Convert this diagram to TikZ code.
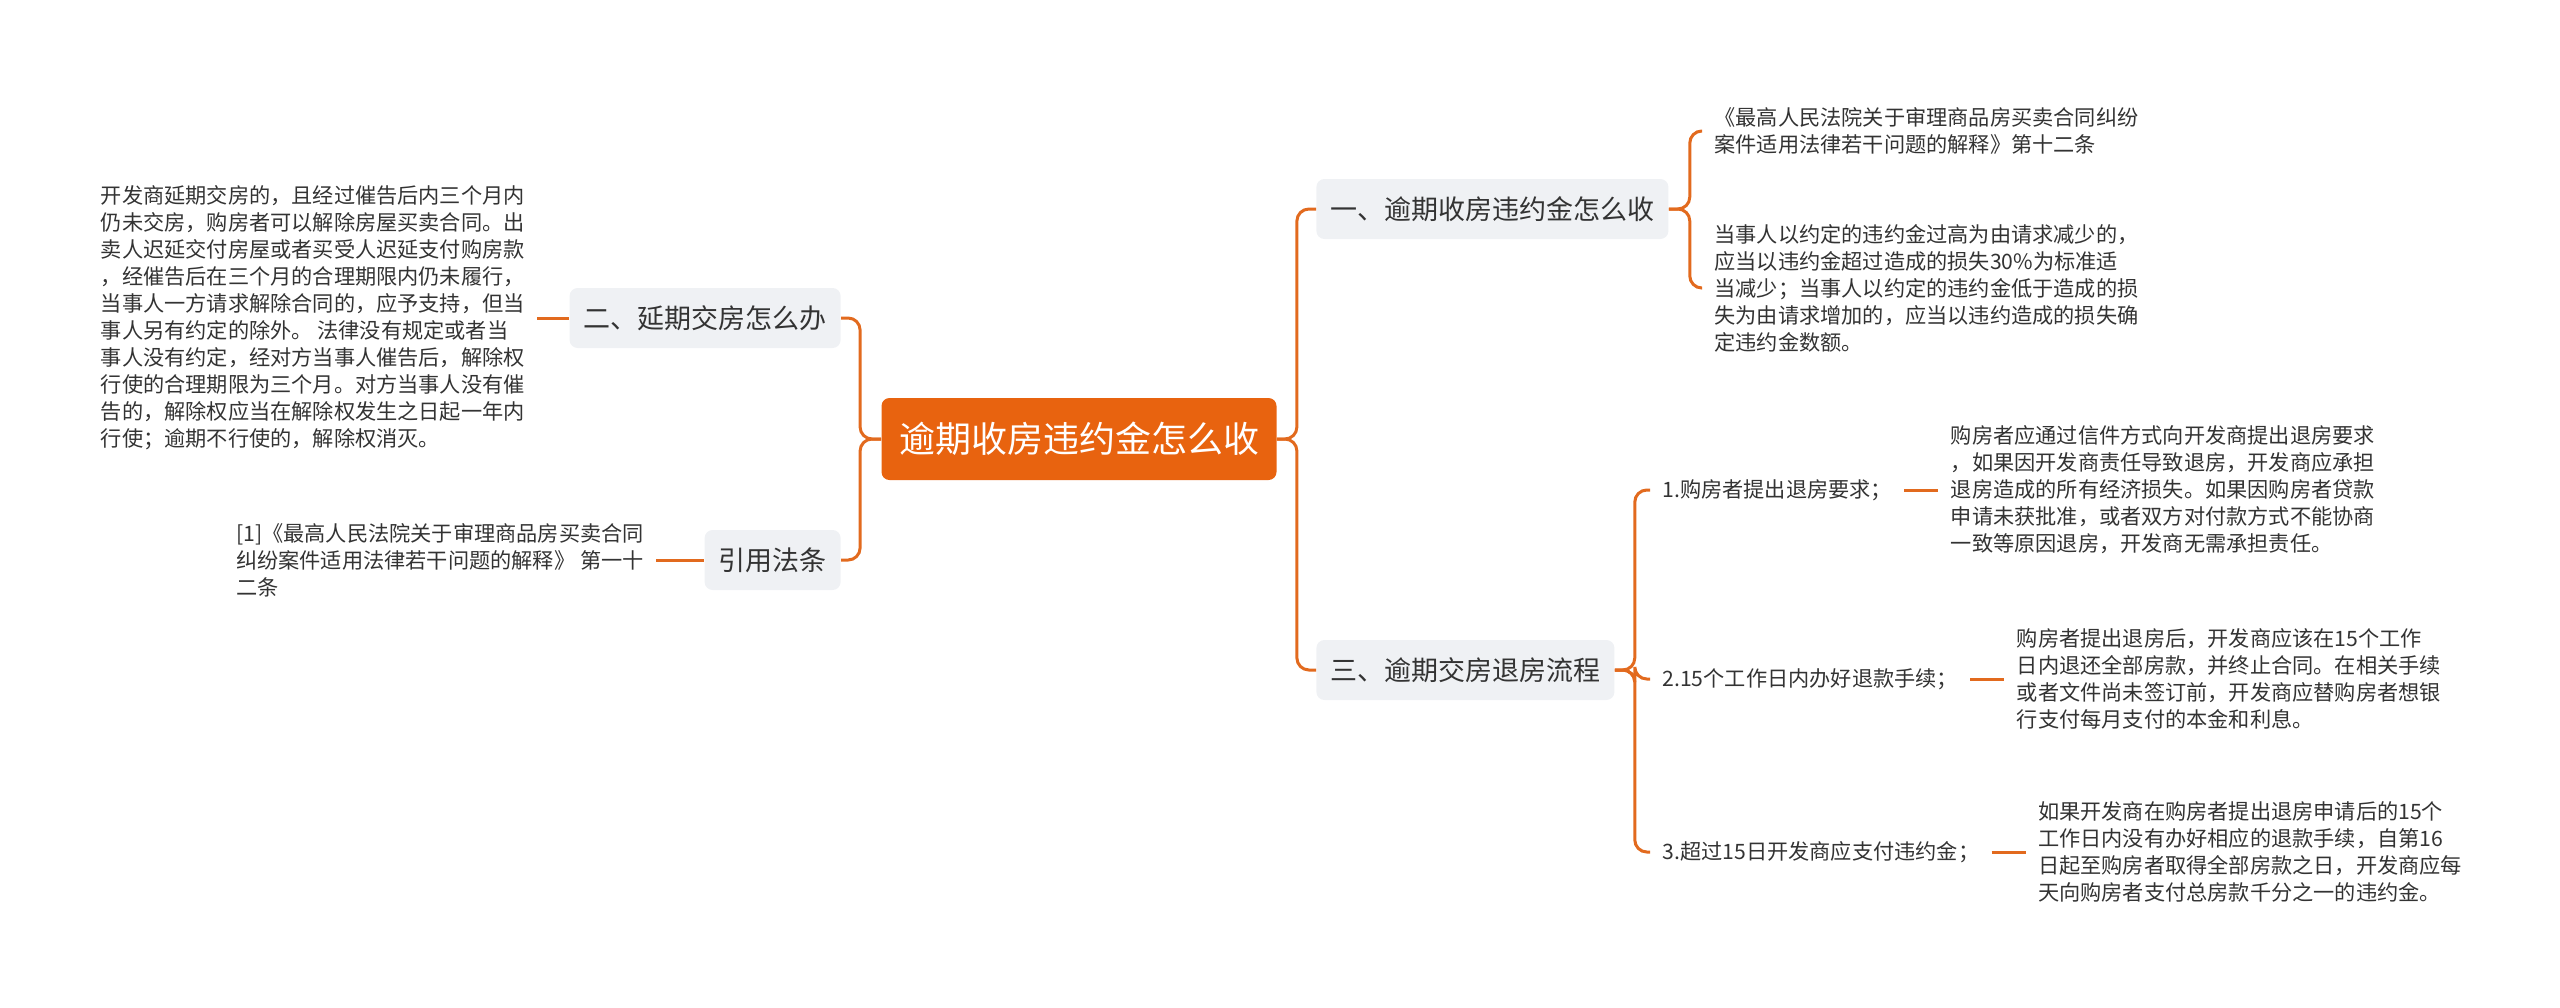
\documentclass[tikz,border=0pt]{standalone}
\usepackage{fontspec}
\setmainfont{Noto Sans CJK SC}
\usetikzlibrary{positioning}
\definecolor{orng}{HTML}{E8630F}
\definecolor{lnk}{HTML}{E26A1E}
\definecolor{boxgray}{HTML}{EFF1F4}
\definecolor{txt}{HTML}{333333}
\tikzset{
    %Define style for the root box
    rootbox/.style={
           rectangle,
           rounded corners=4pt,
           fill=orng, text=white,
           font=\fontsize{18pt}{22pt}\selectfont,
           minimum width=197.5pt,
           minimum height=41pt,
           text centered},
    %Define style for branch boxes
    branchbox/.style={
           rectangle,
           rounded corners=4pt,
           fill=boxgray, text=txt,
           font=\fontsize{13.5pt}{16pt}\selectfont,
           inner xsep=7pt,
           minimum height=30pt,
           text centered},
    %Define style for plain texts
    leaf/.style={
           inner sep=6pt,
           text=txt,
           align=left,
           font=\fontsize{10.6pt}{13.5pt}\selectfont},
    % Define connector style
    pil/.style={
           draw=lnk,
           line width=1.5pt,
           rounded corners=6pt}
}
\begin{document}
\begin{tikzpicture}[x=0.5pt,y=-0.5pt]
\useasboundingbox (0,0) rectangle (2560,1007);

 %nodes
\node[rootbox] (root) at (1079,439) {逾期收房违约金怎么收};
\node[branchbox, anchor=east] (l1) at (841,318) {二、延期交房怎么办};
\node[branchbox, anchor=east] (l2) at (841,560) {引用法条};
\node[branchbox, anchor=west] (r1) at (1316,209) {一、逾期收房违约金怎么收};
\node[branchbox, anchor=west] (r2) at (1316,670) {三、逾期交房退房流程};

\node[leaf, left=16pt of l1] (l1a) {开发商延期交房的，且经过催告后内三个月内\\
仍未交房，购房者可以解除房屋买卖合同。出\\
卖人迟延交付房屋或者买受人迟延支付购房款\\
，经催告后在三个月的合理期限内仍未履行，\\
当事人一方请求解除合同的，应予支持，但当\\
事人另有约定的除外。 法律没有规定或者当\\
事人没有约定，经对方当事人催告后，解除权\\
行使的合理期限为三个月。对方当事人没有催\\
告的，解除权应当在解除权发生之日起一年内\\
行使；逾期不行使的，解除权消灭。};
\node[leaf, left=24pt of l2] (l2a) {[1]《最高人民法院关于审理商品房买卖合同\\
纠纷案件适用法律若干问题的解释》 第一十\\
二条};

\node[leaf, anchor=west] (r1a) at (1702,131) {《最高人民法院关于审理商品房买卖合同纠纷\\
案件适用法律若干问题的解释》第十二条};
\node[leaf, anchor=west] (r1b) at (1702,288) {当事人以约定的违约金过高为由请求减少的，\\
应当以违约金超过造成的损失30\%为标准适\\
当减少；当事人以约定的违约金低于造成的损\\
失为由请求增加的，应当以违约造成的损失确\\
定违约金数额。};

\node[leaf, anchor=west] (r2a) at (1650,490) {1.购房者提出退房要求；};
\node[leaf, anchor=west] (r2b) at (1650,679) {2.15个工作日内办好退款手续；};
\node[leaf, anchor=west] (r2c) at (1650,852) {3.超过15日开发商应支付违约金；};

\node[leaf, right=17pt of r2a] (r2a1) {购房者应通过信件方式向开发商提出退房要求\\
，如果因开发商责任导致退房，开发商应承担\\
退房造成的所有经济损失。如果因购房者贷款\\
申请未获批准，或者双方对付款方式不能协商\\
一致等原因退房，开发商无需承担责任。};
\node[leaf, right=17pt of r2b] (r2b1) {购房者提出退房后，开发商应该在15个工作\\
日内退还全部房款，并终止合同。在相关手续\\
或者文件尚未签订前，开发商应替购房者想银\\
行支付每月支付的本金和利息。};
\node[leaf, right=17pt of r2c] (r2c1) {如果开发商在购房者提出退房申请后的15个\\
工作日内没有办好相应的退款手续，自第16\\
日起至购房者取得全部房款之日，开发商应每\\
天向购房者支付总房款千分之一的违约金。};

 %connectors
\draw[pil] (root.west) -- ++(-21,0) |- (l1.east);
\draw[pil] (root.west) -- ++(-21,0) |- (l2.east);
\draw[pil] (root.east) -- ++(20,0) |- (r1.west);
\draw[pil] (root.east) -- ++(20,0) |- (r2.west);
\draw[pil] (l1a.east) -- (l1.west);
\draw[pil] (l2a.east) -- (l2.west);
\draw[pil] (r1.east) -- ++(21,0) |- (r1a.west);
\draw[pil] (r1.east) -- ++(21,0) |- (r1b.west);
\draw[pil] (r2.east) -- ++(20,0) |- (r2a.west);
\draw[pil] (r2.east) -- ++(20,0) |- (r2b.west);
\draw[pil] (r2.east) -- ++(20,0) |- (r2c.west);
\draw[pil] (r2a.east) -- (r2a1.west);
\draw[pil] (r2b.east) -- (r2b1.west);
\draw[pil] (r2c.east) -- (r2c1.west);
\end{tikzpicture}
\end{document}
